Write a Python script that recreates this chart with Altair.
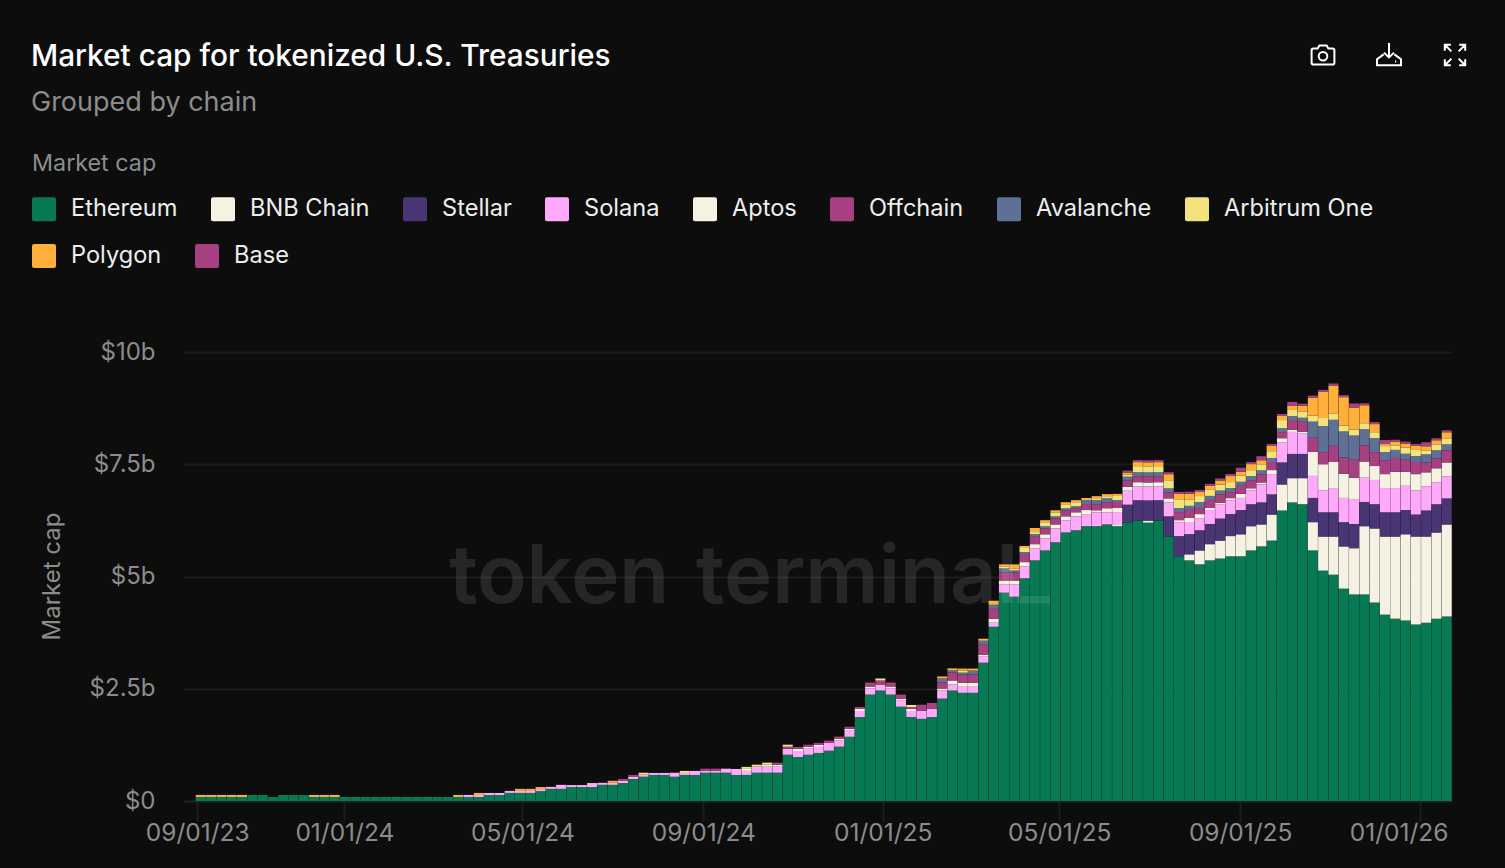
import altair as alt
import pandas as pd

TITLE = "Market cap for tokenized U.S. Treasuries"
SUBTITLE = "Grouped by chain"
SERIES = ["Ethereum", "BNB Chain", "Stellar", "Solana", "Aptos", "Offchain",
          "Avalanche", "Arbitrum One", "Polygon", "Base"]
COLORS = ["#077a55", "#f5f2e3", "#4a3574", "#ffa9fb", "#f5f2e3", "#a64080",
          "#5f7096", "#f3e37f", "#ffb03b", "#a64080"]

ETHEREUM = [.09,.09,.09,.09,.09,.134,.134,.09,.134,.134,
            .134,.09,.09,.09,.09,.09,.09,.09,.09,.09,
            .09,.09,.09,.09,.09,.09,.09,.09,.134,.134,
            .18,.18,.18,.22,.27,.27,.31,.31,.31,.36,
            .36,.40,.49,.54,.58,.58,.54,.58,.58,.63,
            .63,.63,.58,.58,.63,.63,.63,1.03,.98,1.03,
            1.07,1.12,1.21,1.43,1.87,2.37,2.46,2.37,2.10,1.87,
            1.83,1.87,2.28,2.46,2.41,2.41,3.08,3.88,4.64,4.55,
            4.96,5.36,5.58,5.76,5.98,6.03,6.12,6.12,6.16,6.12,
            6.20,6.25,6.20,6.25,5.89,5.45,5.36,5.27,5.36,5.40,
            5.45,5.45,5.58,5.67,5.80,6.47,6.65,6.61,5.58,5.13,
            5.04,4.73,4.60,4.60,4.42,4.15,4.06,4.02,3.93,3.97,
            4.06,4.11]
BNB = [0]*89 + [.045,
       0,0,.045,0,0,0,.134,.31,.36,.40,
       .45,.49,.54,.49,.58,.58,.54,.58,.63,.76,
       .85,.94,1.03,1.52,1.65,1.74,1.83,1.92,1.96,1.92,
       1.92,2.05]
STELLAR = [0]*90 + [.40,.45,.45,.45,.45,.45,.45,.45,.45,.49,
           .49,.54,.49,.49,.45,.49,.54,.54,.54,.54,
           .54,.54,.54,.54,.54,.54,.54,.54,.49,.58,
           .63,.58]
SOLANA = [0]*26 + [.045,.045,.045,.045,
          .045,.045,.045,.045,.045,.09,.045,.045,.09,.045,
          .045,.045,.045,.045,.045,.045,.09,.045,.09,.045,
          .045,.09,.134,.09,.134,.134,.134,.134,.134,.134,
          .134,.18,.134,.134,.134,.134,.134,.134,.134,.134,
          .18,.18,.18,.134,.134,.134,.134,.09,.18,.27,
          .27,.27,.27,.31,.27,.31,.27,.31,.27,.27,
          .31,.31,.31,.31,.31,.31,.27,.27,.31,.31,
          .31,.27,.31,.40,.45,.45,.49,.45,.49,.49,
          .54,.54,.54,.54,.54,.54,.54,.54,.54,.54,
          .49,.49]
APTOS = [0]*50 + [0,0,0,.045,0,.045,.045,0,.045,.045,
         .045,0,.045,.045,.045,.045,0,.045,.045,.045,
         0,0,.045,.09,.09,.09,.045,.09,.09,.09,
         .09,.09,.09,.09,.09,.09,.09,.045,.09,.09,
         .09,.09,.09,.09,.09,.045,.09,.09,.045,.045,
         .045,.09,.045,.045,.09,.09,.045,.045,.54,.58,
         .58,.54,.49,.36,.31,.31,.36,.31,.36,.31,
         .31,.31]
OFFCHAIN = [0]*40 + [0,.045,.045,0,0,0,0,0,0,.045,
            .045,0,0,0,0,0,.045,.045,.045,.045,
            .045,.045,.045,.045,.045,.09,.09,.09,.09,.045,
            .134,.134,.134,.18,.18,.18,.22,.22,.18,.18,
            .18,.18,.134,.134,.134,.09,.134,.134,.134,.134,
            .134,.134,.134,.134,.134,.18,.18,.134,.18,.18,
            .134,.18,.18,.18,.18,.134,.22,.22,.31,.27,
            .36,.36,.40,.36,.31,.31,.31,.27,.27,.22,
            .22,.27]
AVALANCHE = [0]*70 + [0,0,.09,.045,.045,.09,.09,.09,.09,.045,
             .045,.045,.045,.045,.045,.045,.09,.09,.09,.045,
             .09,.09,.09,.09,.09,.09,.09,.134,.09,.09,
             .09,.09,.09,.09,.09,.09,.09,.09,.36,.58,
             .58,.58,.54,.36,.31,.18,.18,.134,.134,.18,
             .18,.134]
ARBITRUM = [0]*40 + [0,0,0,.045,0,0,0,.045,0,0,
            0,0,0,.045,.045,.045,0,.045,0,0,
            0,0,0,0,0,0,.045,0,0,.045,
            0,0,0,0,.045,0,0,0,.045,.045,
            .09,.045,.09,.09,.09,.09,0,.045,.045,.09,
            .045,.134,.134,.134,.18,.18,.134,.134,.134,.134,
            .134,.134,.134,.134,.134,.18,.134,.134,.134,.18,
            .134,.134,.134,.134,.134,.134,.09,.134,.134,.09,
            .134,.134]
POLYGON = [.045,.045,.045,.045,.045,0,0,0,0,0,
           0,.045,.045,.045,0,0,0,0,0,0,
           0,0,0,0,0,.045,0,.045,0,0,
           0,.045,.045,.045,0,0,0,0,0,0,
           .045,0,0,0,0,0,0,0,0,0,
           0,0,0,0,0,0,0,0,0,0,
           0,0,0,0,0,0,0,0,0,0,
           0,0,.045,.045,.045,.045,.045,.09,.045,.09,
           .045,.09,.045,.045,.045,.045,.045,.045,.045,.045,
           .045,.09,.09,.09,.134,.134,.134,.09,.09,.09,
           .134,.09,.134,.09,.134,.09,.09,.134,.40,.58,
           .63,.63,.49,.40,.18,.045,.09,.09,.09,.09,
           .09,.134]
BASE = [0]*90 + [.045,.045,.045,.045,.045,.045,.045,.045,.045,.045,
        .045,.09,.045,.09,.045,.045,.09,.045,.045,.045,
        .045,.045,.09,.045,.045,.09,.045,.045,.045,.09,
        .045,.045]
VALUES = [ETHEREUM, BNB, STELLAR, SOLANA, APTOS, OFFCHAIN, AVALANCHE, ARBITRUM, POLYGON, BASE]

FIRST_WEEK = "2023-09-22"
TICK_DATES = ["2023-09-23", "2024-01-01", "2024-05-01", "2024-09-01",
              "2025-01-01", "2025-05-01", "2025-09-01", "2026-01-01"]
Y_TICKS = [0, 2.5, 5, 7.5, 10]

n_weeks = len(ETHEREUM)
for v in VALUES:
    assert len(v) == n_weeks, len(v)
starts = pd.date_range(FIRST_WEEK, periods=n_weeks, freq="7D")
rows = []
for rank, (name, vals) in enumerate(zip(SERIES, VALUES)):
    for s, val in zip(starts, vals):
        rows.append({"start": s.strftime("%Y-%m-%dT00:00:00Z"),
                     "end": (s + pd.Timedelta(hours=164)).strftime("%Y-%m-%dT%H:00:00Z"),
                     "chain": name, "rank": rank, "value": val})
df = pd.DataFrame(rows)

GREY = "#8c8c8c"
FONT = "Inter"
SWATCH = "M-0.83,-1H0.83Q1,-1,1,-0.83V0.83Q1,1,0.83,1H-0.83Q-1,1,-1,0.83V-0.83Q-1,-1,-0.83,-1Z"
LEGEND_STYLE = dict(
    orient="none", direction="horizontal", columnPadding=33, rowPadding=24,
    labelFontSize=23.6, labelColor="#eeeeee", labelFont=FONT, labelOffset=15, labelLimit=300,
    symbolType=SWATCH, symbolSize=576, symbolStrokeWidth=0, symbolOpacity=1,
)

x_scale = alt.Scale(type="utc", domain=["2023-09-14T00:00:00Z", "2026-01-23T00:00:00Z"])
color_scale = alt.Scale(domain=SERIES, range=COLORS)
bars = alt.Chart(df).transform_stack(
    stack="value", groupby=["start"], sort=[alt.SortField("rank", order="ascending")], as_=["y0", "y1"]
).mark_bar().encode(
    x=alt.X("start:T", scale=x_scale, axis=alt.Axis(
        title=None, values=[d + "T00:00:00Z" for d in TICK_DATES],
        labelExpr="datum.index == 0 ? '09/01/23' : utcFormat(datum.value, '%m/%d/%y')",
        labelOverlap=False, labelBound=False, labelFlush=False,
        labelOffset={"condition": {"test": "datum.index == 1", "value": -21}, "value": 0},
        labelFontSize=24.5, labelColor=GREY, labelFont=FONT, labelPadding=0,
        tickSize=20, tickWidth=2, tickColor="#1c1c1c",
        domainColor="#222222", domainWidth=2, grid=False)),
    x2="end:T",
    y=alt.Y("y0:Q", scale=alt.Scale(domain=[0, 10], nice=False), axis=alt.Axis(
        title="Market cap", titleFontSize=24, titleColor=GREY, titleFont=FONT,
        titleFontWeight="normal", titleX=-120, titleY=224,
        values=Y_TICKS,
        labelExpr="datum.value == 0 ? '$0' : '$' + datum.value + 'b'",
        labelFontSize=24, labelColor=GREY, labelFont=FONT, labelPadding=29,
        ticks=False, domain=False, grid=True, gridColor="#1c1c1c", gridWidth=2)),
    y2="y1:Q",
    color=alt.Color("chain:N", scale=color_scale, legend=alt.Legend(
        title="Market cap", legendX=-152, legendY=-199, values=SERIES[:8], columns=8,
        titlePadding=21, titleFontSize=23.3, titleColor=GREY, titleFont=FONT,
        titleFontWeight="normal", **LEGEND_STYLE)),
)

# Second row of the legend, which wraps on its own widths in the reference.
legend_row2 = alt.Chart(pd.DataFrame({"chain": SERIES[8:]})).mark_point(
    filled=True, opacity=0, size=1,
).encode(
    x=alt.value(0), y=alt.value(0),
    fill=alt.Fill("chain:N", scale=alt.Scale(domain=SERIES[8:], range=COLORS[8:]), legend=alt.Legend(
        title=None, legendX=-152, legendY=-108, columns=2, **LEGEND_STYLE)),
)

WATERMARK_PARTS = ["token", "terminal", "_"]
marks_wm = []
for part, px, py, fs in zip(WATERMARK_PARTS, [265, 512, 833], [251, 251, 244], [81.5, 81.5, 70]):
    marks_wm.append(alt.Chart(pd.DataFrame({"t": [part]})).mark_text(
        align="left", baseline="alphabetic", font=FONT, fontSize=fs, fontWeight=600,
        color="#ffffff", opacity=0.1,
    ).encode(text="t:N", x=alt.value(px), y=alt.value(py)))

CAMERA = ("M-0.95,-0.4Q-0.95,-0.55,-0.8,-0.55H-0.45L-0.3,-0.8H0.3L0.45,-0.55H0.8Q0.95,-0.55,0.95,-0.4"
          "V0.65Q0.95,0.8,0.8,0.8H-0.8Q-0.95,0.8,-0.95,0.65Z"
          "M0.36,0.1A0.36,0.36,0,1,1,-0.36,0.1A0.36,0.36,0,1,1,0.36,0.1Z")
DOWNLOAD = ("M0,-1V0.2M-0.42,-0.2L0,0.2L0.42,-0.2"
            "M-0.45,-0.05L-1,0.35V0.85H1V0.35L0.45,-0.05M0.5,0.55H0.6")
EXPAND = ("M-0.85,-0.35V-0.85H-0.35M-0.85,-0.85L-0.3,-0.3"
          "M0.85,-0.35V-0.85H0.35M0.85,-0.85L0.3,-0.3"
          "M-0.85,0.35V0.85H-0.35M-0.85,0.85L-0.3,0.3"
          "M0.85,0.35V0.85H0.35M0.85,0.85L0.3,0.3")
icons = []
for path, px in [(CAMERA, 1139), (DOWNLOAD, 1205), (EXPAND, 1271)]:
    icons.append(alt.Chart(pd.DataFrame({"i": [0]})).mark_point(
        shape=path, filled=False, stroke="#ffffff", strokeWidth=2, size=576, opacity=1,
    ).encode(x=alt.value(px), y=alt.value(-297)))

chart = alt.layer(bars, legend_row2, *marks_wm, *icons).properties(
    width=1268, height=449,
    title=alt.TitleParams(
        text=TITLE, subtitle=SUBTITLE, anchor="start", frame="group", dx=-153, offset=-77,
        font=FONT, fontSize=29.8, fontWeight=500, color="#ffffff",
        subtitleFont=FONT, subtitleFontSize=27, subtitleColor=GREY, subtitlePadding=18),
    autosize=alt.AutoSizeParams(type="none"),
    padding={"left": 176, "top": 344, "right": 45, "bottom": 58},
    background="#0d0d0d",
).configure_view(stroke=None)

chart.save("out.html", embed_options={"renderer": "svg", "actions": False})

# The reference has no page-coloured margin: give the page the chart's own background.
with open("out.html", encoding="utf-8") as fh:
    page = fh.read()
page = page.replace("</head>", "<style>html,body{background:#0d0d0d}</style></head>", 1)
with open("out.html", "w", encoding="utf-8") as fh:
    fh.write(page)
